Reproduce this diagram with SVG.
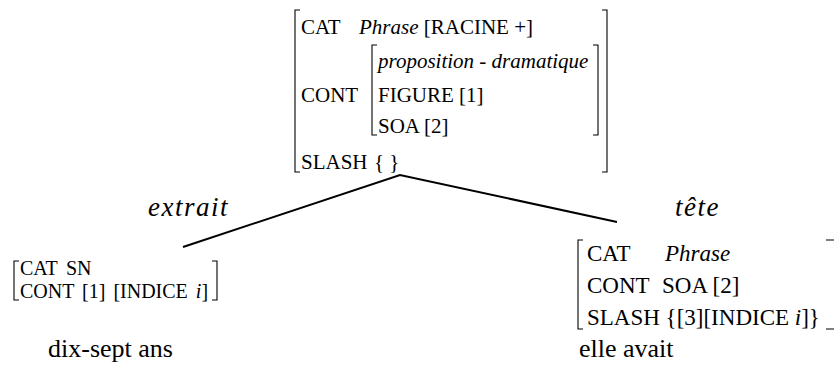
<svg xmlns="http://www.w3.org/2000/svg" width="837" height="378" viewBox="0 0 837 378">
<style>
text{font-family:"Liberation Serif","Times New Roman",serif;fill:#000}
.a{font-size:21px}
.b{font-size:20px;word-spacing:3px}
.c{font-size:23px}
.w{font-size:26px}
.l{font-size:27px;letter-spacing:1.5px}
.it{font-style:italic}
.br{fill:none;stroke:#000;stroke-width:1.1}
.ln{fill:none;stroke:#000;stroke-width:2}
</style>
<rect width="837" height="378" fill="#fff"/>
<g id="root">
<path class="br" d="M300,10H295V172H300M602,10H607V172H602"/>
<path class="br" d="M377,45H372V135H377M593,45H598V135H593"/>
<text class="a" x="301" y="34">CAT</text>
<text class="a" x="359" y="34"><tspan class="it">Phrase</tspan> [RACINE +]</text>
<text class="a it" x="378" y="68">proposition - dramatique</text>
<text class="a" x="301" y="102">CONT</text>
<text class="a" x="378" y="102">FIGURE [1]</text>
<text class="a" x="378" y="133">SOA [2]</text>
<text class="a" x="301" y="169">SLASH</text>
<text class="a" x="374" y="169">{ }</text>
</g>
<g id="connectors">
<path class="ln" d="M183,247L400,175L617,222"/>
</g>
<g id="label-extrait"><text class="l it" x="148" y="216">extrait</text></g>
<g id="label-tete"><text class="l it" x="675" y="216">tête</text></g>
<g id="extrait">
<path class="br" d="M19,261H14V300H19M212,261H217V300H212"/>
<text class="b" x="20" y="275">CAT</text>
<text class="b" x="66" y="275">SN</text>
<text class="b" x="20" y="298">CONT [1] [INDICE <tspan class="it">i</tspan>]</text>
<text class="w" x="48" y="357">dix-sept ans</text>
</g>
<g id="tete">
<path class="br" d="M583,240H578V329H583M826,240H834M826,329H834"/>
<text class="c" x="587" y="261">CAT</text>
<text class="c it" x="665" y="261">Phrase</text>
<text class="c" x="587" y="293">CONT</text>
<text class="c" x="662" y="293">SOA  [2]</text>
<text class="c" x="587" y="325">SLASH {[3][INDICE <tspan class="it">i</tspan>]}</text>
<text class="w" x="579" y="357">elle avait</text>
</g>
</svg>
